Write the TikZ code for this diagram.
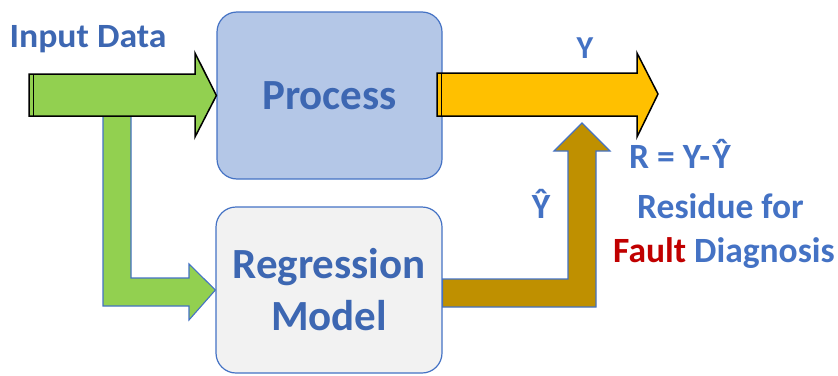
\documentclass[tikz,border=0pt]{standalone}
\usepackage{fontspec}
\usepackage{graphicx}
\setmainfont{Carlito}
\usetikzlibrary{calc}

\definecolor{procfill}{HTML}{B4C7E7}
\definecolor{regfill}{HTML}{F2F2F2}
\definecolor{edgeblue}{HTML}{4472C4}
\definecolor{boxtext}{HTML}{3D67B2}
\definecolor{labelblue}{HTML}{4472C4}
\definecolor{greenarrow}{HTML}{92D050}
\definecolor{yellowarrow}{HTML}{FFC000}
\definecolor{brownarrow}{HTML}{BF9000}
\definecolor{faultred}{HTML}{C00000}

\tikzset{
  block/.style={draw=edgeblue, line width=1.2pt, rounded corners=20pt,
    inner sep=0pt, align=center, text=boxtext,
    font=\bfseries\fontsize{43}{52}\selectfont},
  blackarrow/.style={draw=black, line width=1.5pt, line join=miter},
  bluearrow/.style={draw=edgeblue, line width=1.1pt, line join=miter},
  label/.style={text=labelblue, inner sep=0pt,
    font=\bfseries\fontsize{35.5}{40}\selectfont},
}

\begin{document}
\begin{tikzpicture}[x=1pt, y=-1pt]
\useasboundingbox (0,0) rectangle (838,375);

% the two blocks
\node[block, fill=procfill, minimum width=225pt, minimum height=167pt]
  (proc) at (329.5,95.5) {Process};
\node[block, fill=regfill, minimum width=226pt, minimum height=166pt]
  (reg) at (329,290) {Regression\\Model};

% branch of the input towards the regression model
\fill[greenarrow] (103,116) -- (131,116) -- (131,278) -- (189,278) -- (189,264)
  -- (reg.west) -- (189,320) -- (189,306) -- (103,306) -- cycle;
\draw[bluearrow] (103,116) -- (131,116) -- (131,278) -- (189,278) -- (189,264)
  -- (reg.west) -- (189,320) -- (189,306) -- (103,306) -- cycle;

% input arrow into the process
\filldraw[fill=greenarrow, blackarrow] (29,74) -- (195,74) -- (195,53)
  -- (proc.west) -- (195,137) -- (195,116) -- (29,116) -- cycle;
\draw[black, line width=1pt] (29,74) rectangle (33,116);

% measured output of the process
\filldraw[fill=yellowarrow, blackarrow] (437,73) -- (637,73) -- (637,53)
  -- (658,94) -- (637,137) -- (637,116) -- (437,116) -- cycle;
\draw[black, line width=1pt] (437,73) rectangle (441,116);

% model estimate routed up to the output
\filldraw[fill=brownarrow, bluearrow] (reg.east |- 0,279) -- (568,279) -- (568,151)
  -- (554,151) -- (582,123) -- (610,151) -- (596,151) -- (596,307)
  -- (reg.east |- 0,307) -- cycle;

% labels
\node[label, text=boxtext, anchor=base, font=\bfseries\fontsize{34}{40}\selectfont]
  (inlab) at (88,47) {\scalebox{1.05}[1]{Input Data}};
\node[label, anchor=base, font=\bfseries\fontsize{32}{38}\selectfont] (ylab) at (585,58) {Y};
\node[label, anchor=base] (yhatlab) at (541,218) {Ŷ};
\node[label, anchor=base west] (reslab) at (629,168) {R = Y-\hspace{2pt}Ŷ};
\node[label, anchor=base west] (residue) at (637,218) {Residue for};
\node[label, anchor=base west] (fault) at (613,262)
  {\textcolor{faultred}{Fault} Diagnosis};
\end{tikzpicture}
\end{document}
